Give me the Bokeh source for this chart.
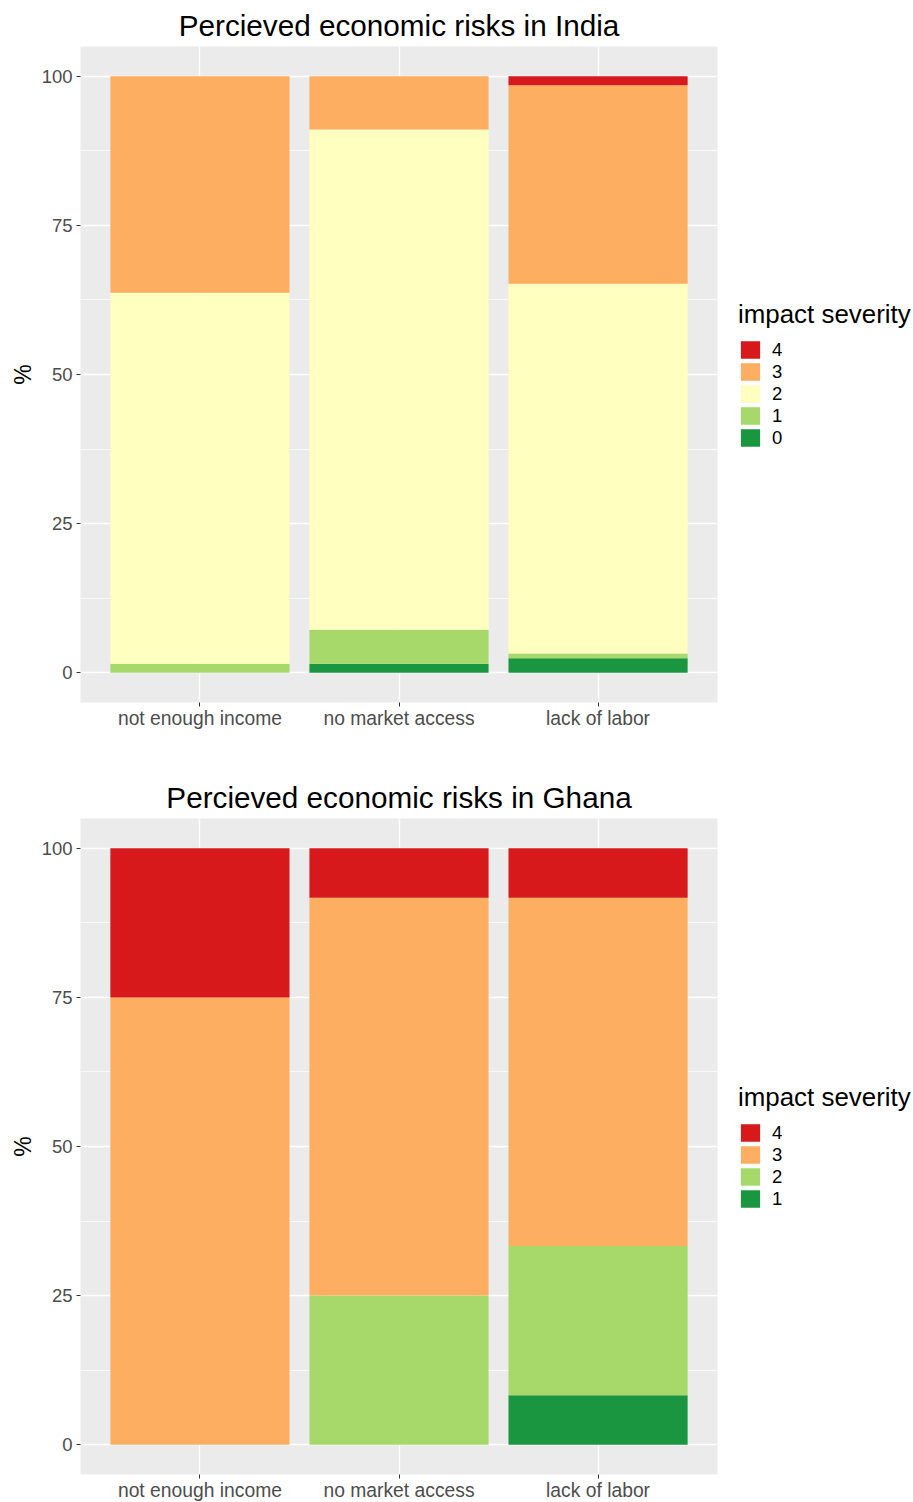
from bokeh.plotting import figure
from bokeh.models import (ColumnDataSource, Range1d, FixedTicker, Legend, LegendItem)
from bokeh.layouts import column
from bokeh.embed import file_html
from bokeh.resources import INLINE

# ---- data ----
categories = ["not enough income", "no market access", "lack of labor"]

india_sev0 = [0.0, 1.5, 2.4]
india_sev1 = [1.5, 5.7, 0.8]
india_sev2 = [62.2, 83.9, 62.0]
india_sev3 = [36.3, 8.9, 33.3]
india_sev4 = [0.0, 0.0, 1.5]

ghana_sev1 = [0.0, 0.0, 8.3]
ghana_sev2 = [0.0, 25.0, 25.0]
ghana_sev3 = [75.0, 66.7, 58.4]
ghana_sev4 = [25.0, 8.3, 8.3]

y_ticks = [0, 25, 50, 75, 100]
y_minor = [12.5, 37.5, 62.5, 87.5]

india_levels = ["0", "1", "2", "3", "4"]
india_colors = ["#1a9641", "#a6d96a", "#ffffbf", "#fdae61", "#d7191c"]
ghana_levels = ["1", "2", "3", "4"]
ghana_colors = ["#1a9641", "#a6d96a", "#fdae61", "#d7191c"]

FONT = "Liberation Sans"


def make_fig(title, levels, colors, series, top, bottom):
    xs = list(range(1, len(categories) + 1))
    data = {"x": xs}
    for lv, s in zip(levels, series):
        data["s" + lv] = s
    src = ColumnDataSource(data)

    p = figure(frame_width=637, frame_height=656, output_backend="svg", toolbar_location=None,
               x_range=Range1d(0.4, 3.6), y_range=Range1d(-5, 105),
               min_border_left=80, min_border_right=0, min_border_top=top,
               min_border_bottom=bottom)
    p.background_fill_color = "#EBEBEB"
    p.outline_line_color = None

    rs = p.vbar_stack(["s" + lv for lv in levels], x="x", width=0.9, source=src,
                      color=colors, line_color=None)

    # title
    p.title.text = title
    p.title.align = "center"
    p.title.text_font = FONT
    p.title.text_font_size = "29.7px"
    p.title.text_font_style = "normal"
    p.title.text_color = "black"
    p.title.standoff = 9

    # axes
    p.xaxis.ticker = FixedTicker(ticks=xs)
    p.xaxis.major_label_overrides = {x: c for x, c in zip(xs, categories)}
    p.yaxis.ticker = FixedTicker(ticks=y_ticks, minor_ticks=y_minor)
    for ax in (p.xaxis[0], p.yaxis[0]):
        ax.axis_line_color = None
        ax.major_tick_line_color = "#333333"
        ax.major_tick_out = 4
        ax.major_tick_in = 0
        ax.minor_tick_line_color = None
        ax.major_label_text_font = FONT
        ax.major_label_text_color = "#4D4D4D"
    p.xaxis.major_label_text_font_size = "19.3px"
    p.xaxis.major_label_standoff = 1
    p.yaxis.major_label_text_font_size = "18.5px"
    p.yaxis.major_label_standoff = 4
    p.yaxis.axis_label = "%"
    p.yaxis.axis_label_text_font = FONT
    p.yaxis.axis_label_text_font_size = "23px"
    p.yaxis.axis_label_text_font_style = "normal"
    p.yaxis.axis_label_text_color = "black"
    p.yaxis.axis_label_standoff = 3

    # grid
    p.xgrid.grid_line_color = "white"
    p.xgrid.grid_line_width = 1.4
    p.ygrid.grid_line_color = "white"
    p.ygrid.grid_line_width = 1.4
    p.ygrid.minor_grid_line_color = "white"
    p.ygrid.minor_grid_line_width = 0.7

    # legend (top = highest severity)
    items = [LegendItem(label=lv, renderers=[r]) for lv, r in zip(levels, rs)][::-1]
    leg = Legend(items=items, location="center_left", title="impact severity")
    leg.title_text_font = FONT
    leg.title_text_font_size = "25.9px"
    leg.title_text_font_style = "normal"
    leg.title_text_color = "black"
    leg.title_standoff = 10
    leg.label_text_font = FONT
    leg.label_text_font_size = "18.5px"
    leg.label_text_color = "black"
    leg.glyph_width = 24
    leg.glyph_height = 22
    leg.label_height = 22
    leg.spacing = 0
    leg.label_standoff = 10
    leg.padding = 0
    leg.margin = 21
    leg.border_line_color = None
    leg.background_fill_color = None
    leg.inactive_fill_color = None
    p.add_layout(leg, "right")
    return p


p1 = make_fig("Percieved economic risks in India", india_levels, india_colors,
              [india_sev0, india_sev1, india_sev2, india_sev3, india_sev4], 46, 69)
p2 = make_fig("Percieved economic risks in Ghana", ghana_levels, ghana_colors,
              [ghana_sev1, ghana_sev2, ghana_sev3, ghana_sev4], 47, 26)

layout = column(p1, p2, spacing=0)
open("out.html", "w").write(file_html(layout, INLINE))
